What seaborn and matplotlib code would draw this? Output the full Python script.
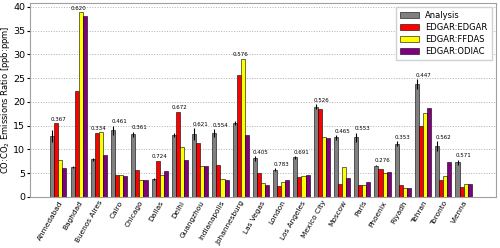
import numpy as np
import pandas as pd
import matplotlib
matplotlib.use('Agg')
import matplotlib.pyplot as plt
import seaborn as sb

cities = ['Ahmedabad', 'Baghdad', 'Buenos Aires', 'Cairo', 'Chicago', 'Dallas', 'Delhi',
          'Guangzhou', 'Indianapolis', 'Johannesburg', 'Las Vegas', 'London', 'Los Angeles',
          'Mexico City', 'Moscow', 'Paris', 'Phoenix', 'Riyadh', 'Tehran', 'Toronto', 'Vienna']
analysis = [12.8, 6.3, 7.9, 14.0, 13.2, 3.7, 13.0, 13.2, 13.4, 15.5, 8.1, 5.7, 8.3,
            19.0, 12.5, 12.5, 6.6, 11.2, 23.8, 10.7, 7.3]
analysis_err = [1.2, 0.2, 0.3, 1.0, 0.5, 0.2, 0.4, 1.2, 0.8, 0.4, 0.5, 0.3, 0.3,
                0.5, 0.5, 1.0, 0.2, 0.5, 1.0, 1.0, 0.5]
edgar = [15.5, 22.3, 13.5, 4.7, 5.7, 7.6, 17.9, 11.3, 6.8, 25.6, 5.1, 2.3, 4.1,
         18.5, 2.7, 2.5, 5.9, 2.5, 15.0, 3.5, 2.0]
ffdas = [7.7, 38.9, 13.6, 4.6, 3.6, 4.7, 10.5, 6.4, 3.7, 29.1, 3.0, 3.1, 4.4,
         12.6, 6.2, 2.5, 5.1, 1.9, 17.7, 4.4, 2.7]
odiac = [6.1, 38.0, 8.9, 4.4, 3.6, 5.4, 7.8, 6.5, 3.6, 13.1, 2.5, 3.5, 4.7,
         12.3, 3.9, 3.1, 5.3, 1.8, 18.8, 7.3, 2.8]
corr = ['0.367', '0.620', '0.334', '0.461', '0.361', '0.724', '0.672', '0.621', '0.554',
        '0.576', '0.405', '0.783', '0.691', '0.526', '0.465', '0.553', '0.276', '0.353',
        '0.447', '0.562', '0.571']

series = {'Analysis': analysis, 'EDGAR:EDGAR': edgar, 'EDGAR:FFDAS': ffdas, 'EDGAR:ODIAC': odiac}
df = pd.concat([pd.DataFrame({'city': cities, 'source': k, 'ratio': v}) for k, v in series.items()])

fig, ax = plt.subplots(figsize=(5, 2.48), dpi=100)
fig.subplots_adjust(left=0.06, right=0.992, top=0.988, bottom=0.206)

sb.barplot(data=df, x='city', y='ratio', hue='source', ax=ax,
           palette=['grey', 'red', 'yellow', 'purple'], width=0.8,
           edgecolor='black', linewidth=0.4, saturation=1)

# error bars on the analysis bars
pos = np.arange(len(cities))
ax.errorbar(pos - 0.3, analysis, yerr=analysis_err, fmt='none', ecolor='black', elinewidth=0.8)

# correlation labels above each group
for i in range(len(cities)):
    top = max(analysis[i] + analysis_err[i], edgar[i], ffdas[i], odiac[i])
    ax.text(pos[i], top + 0.3, corr[i], ha='center', va='bottom', fontsize=4)

ax.set_xlim(-1.4, len(cities) + 0.6)
ax.set_ylim(0, 40.8)
ax.set_xlabel('')
ax.set_ylabel('CO:CO$_2$ Emissions Ratio [ppb:ppm]', fontsize=6, labelpad=1)
ax.yaxis.grid(True, linestyle=':', color='#b0b0b0', linewidth=0.7)
ax.set_axisbelow(True)
ax.tick_params(axis='y', labelsize=6.8, length=2, pad=1.5)
ax.tick_params(axis='x', labelsize=5.3, length=0, pad=2)
plt.setp(ax.get_xticklabels(), rotation=60, ha='right', rotation_mode='anchor')
for s in ax.spines.values():
    s.set_color('#a0a0a0')

ax.legend(loc='upper right', fontsize=6, frameon=True, handlelength=2.2, borderpad=0.5,
          labelspacing=0.35, framealpha=1, edgecolor='#d0d0d0', fancybox=False)

plt.savefig('out.png', dpi=100)
